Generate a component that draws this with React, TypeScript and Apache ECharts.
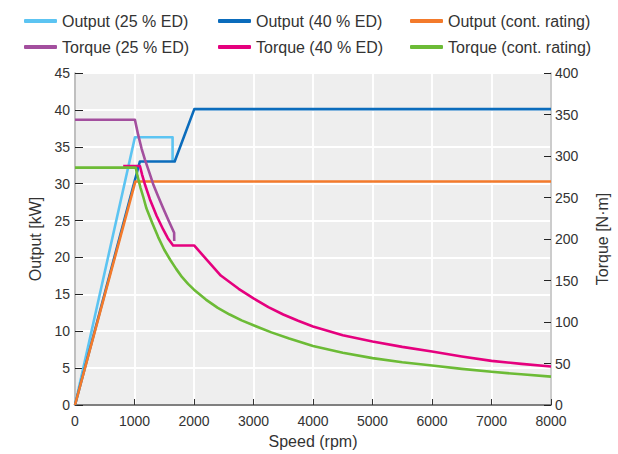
import React, { useEffect, useRef } from "react";
import * as echarts from "echarts";

// ---- Data ----
const seriesNames = [
  "Output (25 % ED)",
  "Output (40 % ED)",
  "Output (cont. rating)",
  "Torque (25 % ED)",
  "Torque (40 % ED)",
  "Torque (cont. rating)",
];
const seriesColors = ["#5cc4f2", "#0b6cbc", "#f37a2b", "#a34f9e", "#e5007e", "#6cbb36"];

// Output [kW] vs speed [rpm]
const out25Speed = [0, 1007, 1640, 1640];
const out25Kw = [0, 36.3, 36.3, 33.1];
const out40Speed = [0, 1090, 1675, 2005, 8000];
const out40Kw = [0, 33.0, 33.0, 40.1, 40.1];
const outContSpeed = [0, 1015, 8000];
const outContKw = [0, 30.3, 30.3];

// Torque [N·m] vs speed [rpm]
const tq25Speed = [0, 1007, 1060, 1119, 1174, 1250, 1314, 1400, 1482, 1580, 1666, 1668];
const tq25Nm = [343.6, 343.6, 326, 309, 296, 280, 266, 251, 237, 221, 207.5, 197.5];
const tq40Speed = [810, 1091, 1130, 1174, 1258, 1371, 1482, 1560, 1649, 2002, 2450, 2750, 3000, 3250, 3500, 3750, 4000, 4500, 5000, 5500, 6000, 6500, 7000, 7500, 8000];
const tq40Nm = [288, 288, 277, 266, 248, 228, 211.5, 201, 192.2, 192.2, 156, 140, 128.5, 118, 109, 101.5, 94.5, 84, 76.5, 70, 64.4, 58.5, 53.2, 49.5, 46.3];
const tqContSpeed = [0, 1020, 1050, 1100, 1150, 1200, 1300, 1400, 1500, 1600, 1700, 1800, 1900, 2000, 2200, 2400, 2600, 2800, 3000, 3300, 3600, 4000, 4500, 5000, 5500, 6000, 6500, 7000, 7500, 8000];
const tqContNm = [286, 286, 276, 262, 250, 237, 219, 202, 187, 175, 164, 154, 146, 139, 127, 117, 109, 102, 96, 87.5, 80, 71, 63, 56.5, 51.5, 47.5, 43.5, 40, 37, 34.2];

// Axes
const speedTicks = { min: 0, max: 8000, interval: 1000 };
const outputTicks = { min: 0, max: 45, interval: 5 };
const torqueTicks = { min: 0, max: 400, interval: 50 };

const FONT = "'Liberation Sans', Arial, sans-serif";

const zip = (xs: number[], ys: number[]) => xs.map((x, i) => [x, ys[i]]);

export default function App() {
  const ref = useRef<HTMLDivElement>(null);
  useEffect(() => {
    if (!ref.current) return;
    const chart = echarts.init(ref.current, undefined, { renderer: "svg" });

    const datasets = [
      { d: zip(out25Speed, out25Kw), axis: 0 },
      { d: zip(out40Speed, out40Kw), axis: 0 },
      { d: zip(outContSpeed, outContKw), axis: 0 },
      { d: zip(tq25Speed, tq25Nm), axis: 1 },
      { d: zip(tq40Speed, tq40Nm), axis: 1 },
      { d: zip(tqContSpeed, tqContNm), axis: 1 },
    ];

    const legendPos = [
      { left: 24, top: 13 },
      { left: 218, top: 13 },
      { left: 410, top: 13 },
      { left: 24, top: 39 },
      { left: 218, top: 39 },
      { left: 410, top: 39 },
    ];

    const option: any = {
      animation: false,
      textStyle: { fontFamily: FONT },
      legend: seriesNames.map((n, i) => ({
        data: [n],
        left: legendPos[i].left,
        top: legendPos[i].top,
        padding: 0,
        itemWidth: 33,
        itemHeight: 4,
        icon: "roundRect",
        selectedMode: false,
        textStyle: { fontSize: 16, color: "#333", fontFamily: FONT },
      })),
      grid: {
        left: 75,
        right: 66,
        top: 73,
        bottom: 49,
        show: true,
        backgroundColor: "#eeeeee",
        borderWidth: 0,
      },
      xAxis: {
        type: "value",
        ...speedTicks,
        name: "Speed (rpm)",
        nameLocation: "middle",
        nameGap: 28,
        nameTextStyle: { fontSize: 16, color: "#333", fontFamily: FONT },
        axisLine: { show: true, lineStyle: { color: "#555", width: 1.5 } },
        axisTick: { show: true, inside: true, length: 6, lineStyle: { color: "#333", width: 1 } },
        axisLabel: { fontSize: 14, color: "#333", margin: 9, fontFamily: FONT, formatter: (v: number) => String(v) },
        splitLine: { show: true, lineStyle: { color: "#ffffff", width: 1.8 } },
      },
      yAxis: [
        {
          type: "value",
          ...outputTicks,
          position: "left",
          name: "Output [kW]",
          nameLocation: "middle",
          nameRotate: 90,
          nameGap: 31,
          nameTextStyle: { fontSize: 16, color: "#333", fontFamily: FONT },
          axisLine: { show: true, onZero: false, lineStyle: { color: "#aaaaaa", width: 1.5 } },
          axisTick: { show: true, inside: true, length: 8, lineStyle: { color: "#222", width: 1 } },
          axisLabel: { fontSize: 14, color: "#333", margin: 5, fontFamily: FONT },
          splitLine: { show: true, lineStyle: { color: "#ffffff", width: 1.8 } },
        },
        {
          type: "value",
          ...torqueTicks,
          position: "right",
          name: "Torque [N·m]",
          nameLocation: "middle",
          nameRotate: 90,
          nameGap: 43,
          nameTextStyle: { fontSize: 16, color: "#333", fontFamily: FONT },
          axisLine: { show: true, onZero: false, lineStyle: { color: "#bbbbbb", width: 1.5 } },
          axisTick: { show: true, inside: true, length: 7, lineStyle: { color: "#222", width: 1 } },
          axisLabel: { fontSize: 14, color: "#333", margin: 4, fontFamily: FONT },
          splitLine: { show: false },
        },
      ],
      series: datasets.map((s, i) => ({
        name: seriesNames[i],
        type: "line",
        yAxisIndex: s.axis,
        data: s.d,
        showSymbol: false,
        symbol: "none",
        color: seriesColors[i],
        lineStyle: { color: seriesColors[i], width: 2.6, join: "round" },
        emphasis: { disabled: true },
      })),
    };
    chart.setOption(option);
    return () => chart.dispose();
  }, []);
  return (
    <div
      ref={ref}
      style={{ position: "absolute", left: 0, top: 0, width: 618, height: 454 }}
    />
  );
}
